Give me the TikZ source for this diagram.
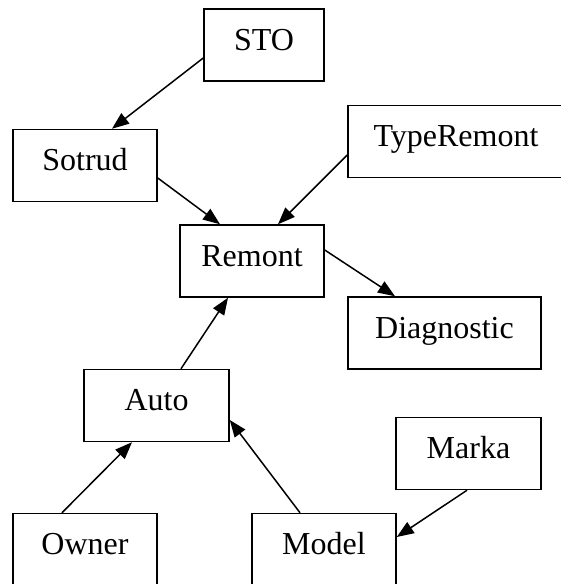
\documentclass[tikz,border=0pt]{standalone}
\usepackage{fontspec}
\setmainfont{Liberation Serif}
\usetikzlibrary{arrows.meta}
\begin{document}
\begin{tikzpicture}[x=1pt,y=-1pt,
  ent/.style={draw,line width=1.5pt,rectangle,inner sep=0pt,minimum height=72pt,
    text height=22pt,text depth=12pt,
    font=\fontsize{32}{36}\selectfont},
  rel/.style={line width=1.5pt,-{Triangle[length=17pt,width=13pt]}}]
\useasboundingbox (0,0) rectangle (561,584);
\clip (0,0) rectangle (561,584);
\node[ent,minimum width=120pt] (sto) at (264,45) {STO};
\node[ent,minimum width=144pt] (sotrud) at (85,165.5) {Sotrud};
\node[ent,minimum width=216pt] (type) at (456,141.5) {TypeRemont};
\node[ent,minimum width=144pt] (remont) at (252,261) {Remont};
\node[ent,minimum width=193pt] (diag) at (444.5,333) {Diagnostic};
\node[ent,minimum width=145pt] (auto) at (156.5,405.5) {Auto};
\node[ent,minimum width=145pt] (marka) at (468.5,453.5) {Marka};
\node[ent,minimum width=144pt] (owner) at (85,549.5) {Owner};
\node[ent,minimum width=144pt] (model) at (324,549.5) {Model};
\draw[rel] ([yshift=-13pt]sto.west) -- ([xshift=27pt]sotrud.north);
\draw[rel] ([yshift=-12.5pt]sotrud.east) -- ([xshift=-32pt]remont.north);
\draw[rel] ([yshift=-13.5pt]type.west) -- ([xshift=26pt]remont.north);
\draw[rel] ([yshift=11pt]remont.east) -- ([xshift=-49.5pt]diag.north);
\draw[rel] ([xshift=24.5pt]auto.north) -- ([xshift=-24pt]remont.south);
\draw[rel] ([xshift=-23pt]owner.north) -- ([xshift=-24.5pt]auto.south);
\draw[rel] ([xshift=-24pt]model.north) -- ([yshift=-14.5pt]auto.east);
\draw[rel] ([xshift=-1.5pt]marka.south) -- ([yshift=12.5pt]model.east);
\end{tikzpicture}
\end{document}
